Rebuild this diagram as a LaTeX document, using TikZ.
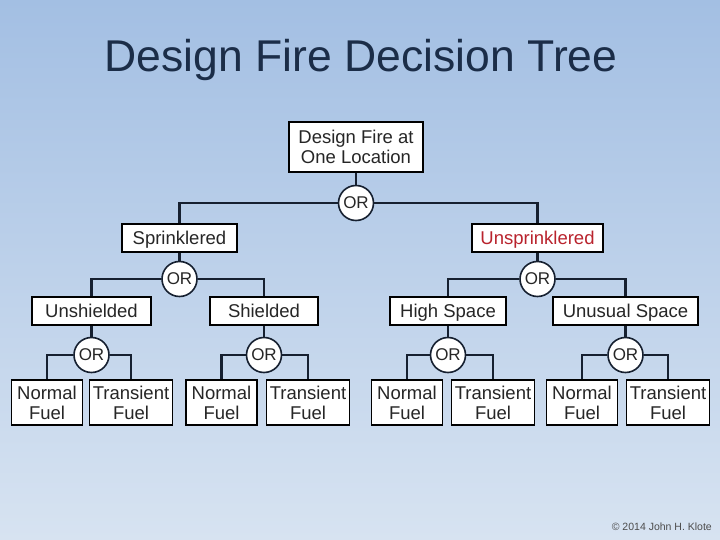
\documentclass[tikz,border=0pt]{standalone}
\usepackage{fontspec}
\setmainfont{Liberation Sans}
\usetikzlibrary{positioning}
\usetikzlibrary{calc}
\definecolor{slidetop}{RGB}{163,191,227}
\definecolor{slidebot}{RGB}{215,227,241}
\definecolor{titleblue}{RGB}{27,45,72}
\definecolor{unred}{RGB}{185,35,45}
\definecolor{wire}{RGB}{22,32,48}
\begin{document}
\begin{tikzpicture}[x=1pt,y=-1pt,
	bx/.style={draw=black, fill=white, line width=1.2pt, inner sep=0pt, minimum height=28pt, text height=13.2pt, text depth=0pt, text=black!85, font=\fontsize{18.5}{19}\selectfont},
	lf/.style={draw=black, fill=white, line width=1.2pt, inner sep=0pt, minimum height=45pt, align=center, text=black!85, font=\fontsize{18.5}{20}\selectfont},
	og/.style={circle, draw=wire, fill=white, line width=1.6pt, inner sep=0pt, minimum size=35pt, text=black!85, font=\fontsize{17}{17}\selectfont},
	wr/.style={wire, line width=2.6pt}]
\useasboundingbox (0,0) rectangle (720,540);
\shade[top color=slidetop, bottom color=slidebot] (0,0) rectangle (720,540);

\node (title) at (361,72) [anchor=base, text=titleblue, font=\fontsize{44.5}{48}\selectfont] {Design Fire Decision Tree};

\node (root) at (356,147) [lf, minimum width=134pt, minimum height=50pt] {Design Fire at\\One Location};
\node (or0) at (356,203) [og] {OR};

\node (spr) at (179.5,238) [bx, minimum width=115pt] {Sprinklered};
\node (unspr) at (537.5,238) [bx, minimum width=131pt, text=unred] {Unsprinklered};
\node (orS) at (179.5,279) [og] {OR};
\node (orU) at (537.5,279) [og] {OR};

\node (unsh) at (91.5,311) [bx, minimum width=119pt] {Unshielded};
\node (sh) at (264,311) [bx, minimum width=108pt] {Shielded};
\node (high) at (448,311) [bx, minimum width=116pt] {High Space};
\node (unus) at (625.5,311) [bx, minimum width=145pt] {Unusual Space};

\draw[wr] (root) -- (or0);
\draw[wr] (or0) -| (spr);
\draw[wr] (or0) -| (unspr);
\draw[wr] (spr) -- (orS);
\draw[wr] (unspr) -- (orU);
\draw[wr] (orS) -| (unsh);
\draw[wr] (orS) -| (sh);
\draw[wr] (orU) -| (high);
\draw[wr] (orU) -| (unus);

% fuel choices under each space
\foreach \p/\x/\nx/\tx in {unsh/91.5/47/131, sh/264/221.5/308, high/448/407/493, unus/625.5/582/668} {
\node (or\p) at (\x,355) [og] {OR};
\node (nf\p) at (\nx,402.5) [lf, minimum width=71pt] {Normal\\Fuel};
\node (tf\p) at (\tx,402.5) [lf, minimum width=83pt] {Transient\\Fuel};
\draw[wr] (\p) -- (or\p);
\draw[wr] (or\p) -| (nf\p);
\draw[wr] (or\p) -| (tf\p);
}

\node (copy) at (712,527) [anchor=east, inner sep=0pt, text=black!70, font=\fontsize{10.5}{12}\selectfont] {© 2014 John H. Klote};
\end{tikzpicture}
\end{document}
